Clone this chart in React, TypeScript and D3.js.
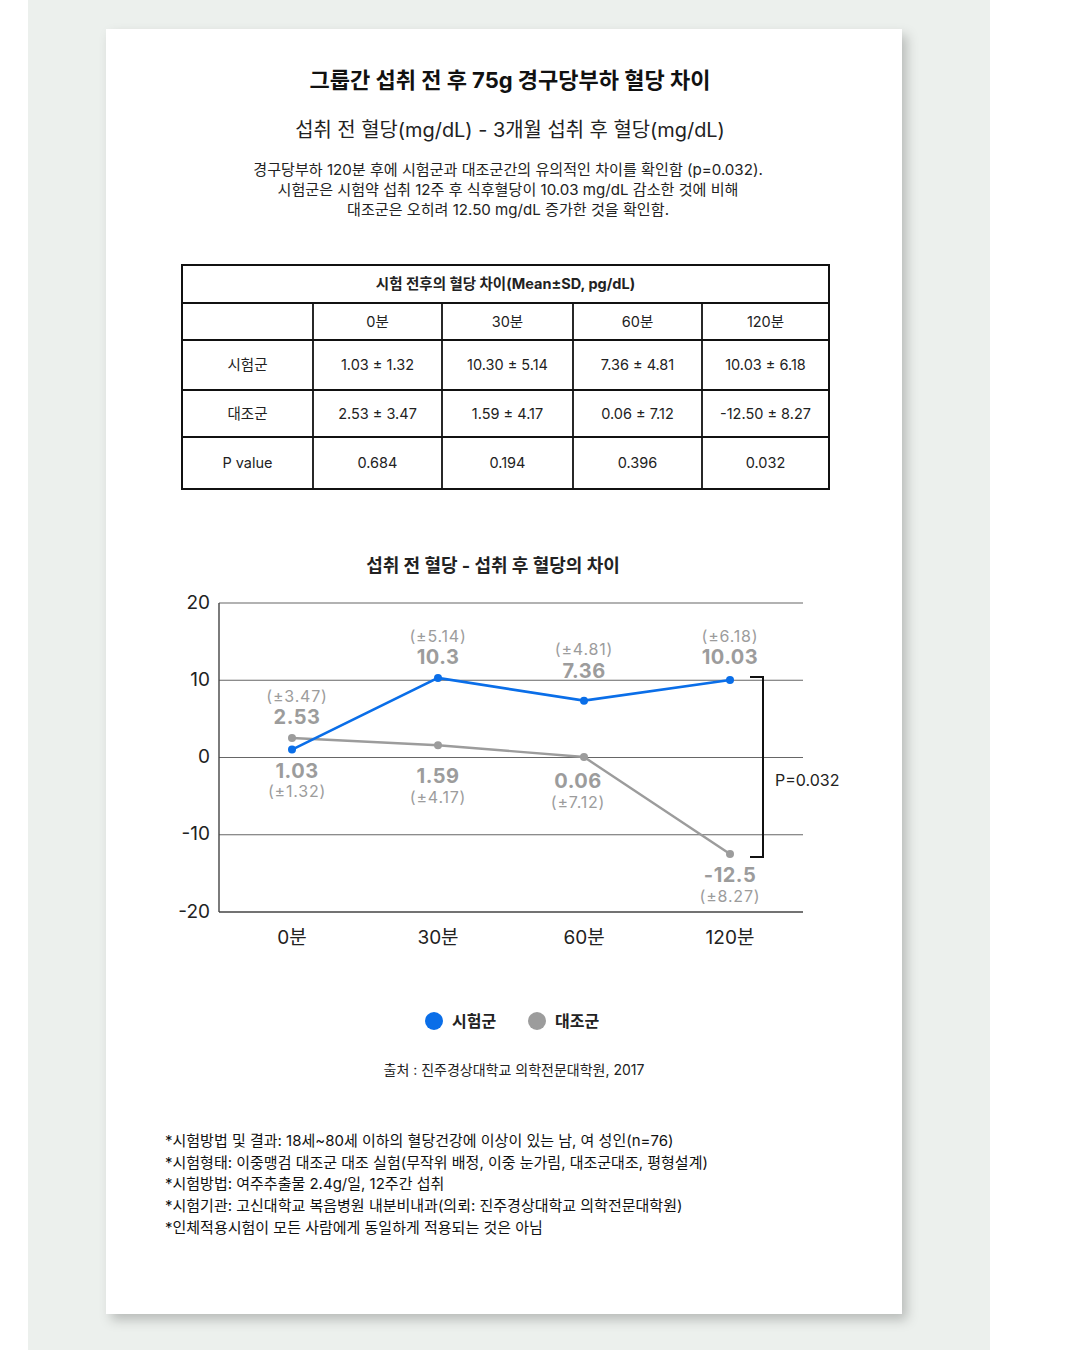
import React, { useEffect, useRef } from "react";
import * as d3 from "d3";

// chart data
const timePoints = ["0분", "30분", "60분", "120분"];
const testMeans = [1.03, 10.3, 7.36, 10.03];
const testSD = [1.32, 5.14, 4.81, 6.18];
const ctrlMeans = [2.53, 1.59, 0.06, -12.5];
const ctrlSD = [3.47, 4.17, 7.12, 8.27];
const yTicks = [20, 10, 0, -10, -20];

// table data
const tableCols = ["0분", "30분", "60분", "120분"];
const tableRowLabels = ["시험군", "대조군", "P value"];
const tableTest = ["1.03 ± 1.32", "10.30 ± 5.14", "7.36 ± 4.81", "10.03 ± 6.18"];
const tableCtrl = ["2.53 ± 3.47", "1.59 ± 4.17", "0.06 ± 7.12", "-12.50 ± 8.27"];
const tablePValues = ["0.684", "0.194", "0.396", "0.032"];

const descLines = [
    "경구당부하 120분 후에 시험군과 대조군간의 유의적인 차이를 확인함 (p=0.032).",
    "시험군은 시험약 섭취 12주 후 식후혈당이 10.03 mg/dL 감소한 것에 비해",
    "대조군은 오히려 12.50 mg/dL 증가한 것을 확인함.",
];
const noteLines = [
    "*시험방법 및 결과: 18세~80세 이하의 혈당건강에 이상이 있는 남, 여 성인(n=76)",
    "*시험형태: 이중맹검 대조군 대조 실험(무작위 배정, 이중 눈가림, 대조군대조, 평형설계)",
    "*시험방법: 여주추출물 2.4g/일, 12주간 섭취",
    "*시험기관: 고신대학교 복음병원 내분비내과(의뢰: 진주경상대학교 의학전문대학원)",
    "*인체적용시험이 모든 사람에게 동일하게 적용되는 것은 아님",
];

const W = 1080;
const H = 1350;
const FONT = "Inter, 'Noto Sans CJK KR', 'Noto Sans', sans-serif";
const BLUE = "#0a6ee8";
const GRAY = "#9c9c9c";

// extra push (px) of the value labels away from their point, to clear the lines
const testLabelPush = [0, 0, 9, 2];
const ctrlLabelPush = [0, 10, 3, 0];

const App: React.FC = () => {
    const svgRef = useRef<SVGSVGElement | null>(null);

    useEffect(() => {
        if (!svgRef.current) return;
        const svg = d3.select(svgRef.current);
        svg.selectAll("*").remove();
        svg.attr("font-family", FONT);

        // background panel + card
        const defs = svg.append("defs");
        const f = defs
            .append("filter")
            .attr("id", "shadow")
            .attr("x", "-10%")
            .attr("y", "-10%")
            .attr("width", "120%")
            .attr("height", "120%");
        f.append("feDropShadow")
            .attr("dx", 5)
            .attr("dy", 6)
            .attr("stdDeviation", 6)
            .attr("flood-color", "#000")
            .attr("flood-opacity", 0.22);

        svg.append("rect").attr("width", W).attr("height", H).attr("fill", "#fff");
        svg.append("rect")
            .attr("x", 28)
            .attr("width", 962)
            .attr("height", H)
            .attr("fill", "#ecf0ed");
        svg.append("rect")
            .attr("x", 106)
            .attr("y", 29)
            .attr("width", 796)
            .attr("height", 1285)
            .attr("fill", "#fff")
            .attr("filter", "url(#shadow)");

        // headings
        svg.append("text")
            .attr("x", 510)
            .attr("y", 88)
            .attr("text-anchor", "middle")
            .attr("font-size", 22)
            .attr("font-weight", 700)
            .attr("fill", "#111")
            .text("그룹간 섭취 전 후 75g 경구당부하 혈당 차이");
        svg.append("text")
            .attr("x", 510)
            .attr("y", 137)
            .attr("text-anchor", "middle")
            .attr("font-size", 19.9)
            .attr("fill", "#222")
            .text("섭취 전 혈당(mg/dL) - 3개월 섭취 후 혈당(mg/dL)");
        svg.append("g")
            .selectAll("text")
            .data(descLines)
            .join("text")
            .attr("x", 508)
            .attr("y", (_, i) => 175 + i * 20)
            .attr("text-anchor", "middle")
            .attr("font-size", 15.1)
            .attr("fill", "#222")
            .text((d) => d);

        // table
        const colX = [182, 313, 442, 573, 702, 829];
        const rowY = [265, 303, 340, 390, 437, 489];
        const tg = svg.append("g");
        tg.append("rect")
            .attr("x", colX[0])
            .attr("y", rowY[0])
            .attr("width", colX[5] - colX[0])
            .attr("height", rowY[5] - rowY[0])
            .attr("fill", "none")
            .attr("stroke", "#111")
            .attr("stroke-width", 2);
        rowY.slice(1, 5).forEach((y) => {
            tg.append("line")
                .attr("x1", colX[0])
                .attr("x2", colX[5])
                .attr("y1", y)
                .attr("y2", y)
                .attr("stroke", "#111")
                .attr("stroke-width", 1.8);
        });
        colX.slice(1, 5).forEach((x) => {
            tg.append("line")
                .attr("x1", x)
                .attr("x2", x)
                .attr("y1", rowY[1])
                .attr("y2", rowY[5])
                .attr("stroke", "#111")
                .attr("stroke-width", 1.8);
        });
        const cell = (txt: string, c0: number, c1: number, r: number, weight = 400) =>
            tg
                .append("text")
                .attr("x", (colX[c0] + colX[c1]) / 2)
                .attr("y", (rowY[r] + rowY[r + 1]) / 2)
                .attr("dy", "0.35em")
                .attr("text-anchor", "middle")
                .attr("font-size", 14.5)
                .attr("font-weight", weight)
                .attr("fill", "#222")
                .text(txt);
        cell("시험 전후의 혈당 차이(Mean±SD, pg/dL)", 0, 5, 0, 700);
        tableCols.forEach((c, i) => cell(c, i + 1, i + 2, 1));
        tableRowLabels.forEach((c, r) => cell(c, 0, 1, r + 2));
        [tableTest, tableCtrl, tablePValues].forEach((row, r) =>
            row.forEach((v, i) => cell(v, i + 1, i + 2, r + 2))
        );

        // chart
        svg.append("text")
            .attr("x", 493)
            .attr("y", 572)
            .attr("text-anchor", "middle")
            .attr("font-size", 18)
            .attr("font-weight", 700)
            .attr("fill", "#222")
            .text("섭취 전 혈당 - 섭취 후 혈당의 차이");

        const left = 219;
        const right = 803;
        const x = d3.scalePoint<string>().domain(timePoints).range([left, right]).padding(0.5);
        const y = d3.scaleLinear().domain([-20, 20]).range([912, 603]);

        const g = svg.append("g");
        g.selectAll("line.grid")
            .data(yTicks)
            .join("line")
            .attr("class", "grid")
            .attr("x1", left)
            .attr("x2", right)
            .attr("y1", (d) => y(d))
            .attr("y2", (d) => y(d))
            .attr("stroke", (d) => (d === -20 ? "#444" : "#666"))
            .attr("stroke-width", (d) => (d === -20 ? 1.4 : 1.1));
        g.append("line")
            .attr("x1", left)
            .attr("x2", left)
            .attr("y1", y(20))
            .attr("y2", y(-20))
            .attr("stroke", "#444")
            .attr("stroke-width", 1.4);
        g.selectAll("text.ytick")
            .data(yTicks)
            .join("text")
            .attr("class", "ytick")
            .attr("x", 210)
            .attr("y", (d) => y(d) - 1)
            .attr("dy", "0.35em")
            .attr("text-anchor", "end")
            .attr("font-size", 19)
            .attr("fill", "#222")
            .text((d) => d);
        g.selectAll("text.xtick")
            .data(timePoints)
            .join("text")
            .attr("class", "xtick")
            .attr("x", (d) => x(d)!)
            .attr("y", 944)
            .attr("text-anchor", "middle")
            .attr("font-size", 19)
            .attr("fill", "#222")
            .text((d) => d);

        const line = d3
            .line<number>()
            .x((_, i) => x(timePoints[i])!)
            .y((d) => y(d));

        const series = [
            { means: ctrlMeans, sd: ctrlSD, color: GRAY, width: 2.4 },
            { means: testMeans, sd: testSD, color: BLUE, width: 2.6 },
        ];
        series.forEach((s) => {
            g.append("path")
                .datum(s.means)
                .attr("d", line)
                .attr("fill", "none")
                .attr("stroke", s.color)
                .attr("stroke-width", s.width);
            g.selectAll(null)
                .data(s.means)
                .join("circle")
                .attr("cx", (_, i) => x(timePoints[i])!)
                .attr("cy", (d) => y(d))
                .attr("r", 4)
                .attr("fill", s.color);
        });

        // value labels: above or below depending on which series sits higher
        const lab = (means: number[], sd: number[], other: number[], push: number[]) => {
            means.forEach((v, i) => {
                const above = v >= other[i];
                const sign = above ? -1 : 1;
                const cx = x(timePoints[i])! + (i === 0 ? 5 : i === 2 && !above ? -6 : 0);
                const cy = y(v);
                const off = 21 + push[i];
                g.append("text")
                    .attr("x", cx)
                    .attr("y", cy + sign * off)
                    .attr("dy", "0.35em")
                    .attr("text-anchor", "middle")
                    .attr("font-size", 20)
                    .attr("font-weight", 700)
                    .attr("letter-spacing", 0.5)
                    .attr("fill", GRAY)
                    .text(String(v));
                g.append("text")
                    .attr("x", cx)
                    .attr("y", cy + sign * (off + 21))
                    .attr("dy", "0.35em")
                    .attr("text-anchor", "middle")
                    .attr("font-size", 16)
                    .attr("letter-spacing", 0.8)
                    .attr("fill", GRAY)
                    .text(`(±${sd[i]})`);
            });
        };
        lab(testMeans, testSD, ctrlMeans, testLabelPush);
        lab(ctrlMeans, ctrlSD, testMeans, ctrlLabelPush);

        // significance bracket at 120분
        const last = timePoints.length - 1;
        const bx = 763;
        g.append("path")
            .attr(
                "d",
                `M${bx - 13},${y(testMeans[last]) - 3} H${bx} V${y(ctrlMeans[last]) + 3} H${bx - 13}`
            )
            .attr("fill", "none")
            .attr("stroke", "#111")
            .attr("stroke-width", 2);
        g.append("text")
            .attr("x", 775)
            .attr("y", (y(testMeans[last]) + y(ctrlMeans[last])) / 2 + 13)
            .attr("dy", "0.35em")
            .attr("font-size", 16)
            .attr("fill", "#222")
            .text(`P=${tablePValues[last]}`);

        // legend
        const legend = [
            { label: "시험군", color: BLUE, x: 434 },
            { label: "대조군", color: GRAY, x: 537 },
        ];
        const lg = svg.append("g");
        legend.forEach((l) => {
            lg.append("circle").attr("cx", l.x).attr("cy", 1021).attr("r", 9).attr("fill", l.color);
            lg.append("text")
                .attr("x", l.x + 18)
                .attr("y", 1021)
                .attr("dy", "0.35em")
                .attr("font-size", 16)
                .attr("font-weight", 700)
                .attr("fill", "#222")
                .text(l.label);
        });

        svg.append("text")
            .attr("x", 514)
            .attr("y", 1075)
            .attr("text-anchor", "middle")
            .attr("font-size", 14)
            .attr("fill", "#222")
            .text("출처 : 진주경상대학교 의학전문대학원, 2017");

        svg.append("g")
            .selectAll("text")
            .data(noteLines)
            .join("text")
            .attr("x", 165)
            .attr("y", (_, i) => 1146 + i * 21.7)
            .attr("font-size", 15)
            .attr("fill", "#111")
            .text((d) => d);
    }, []);

    return (
        <svg
            ref={svgRef}
            width={W}
            height={H}
            viewBox={`0 0 ${W} ${H}`}
            style={{ position: "absolute", left: 0, top: 0, display: "block" }}
        />
    );
};

export default App;
